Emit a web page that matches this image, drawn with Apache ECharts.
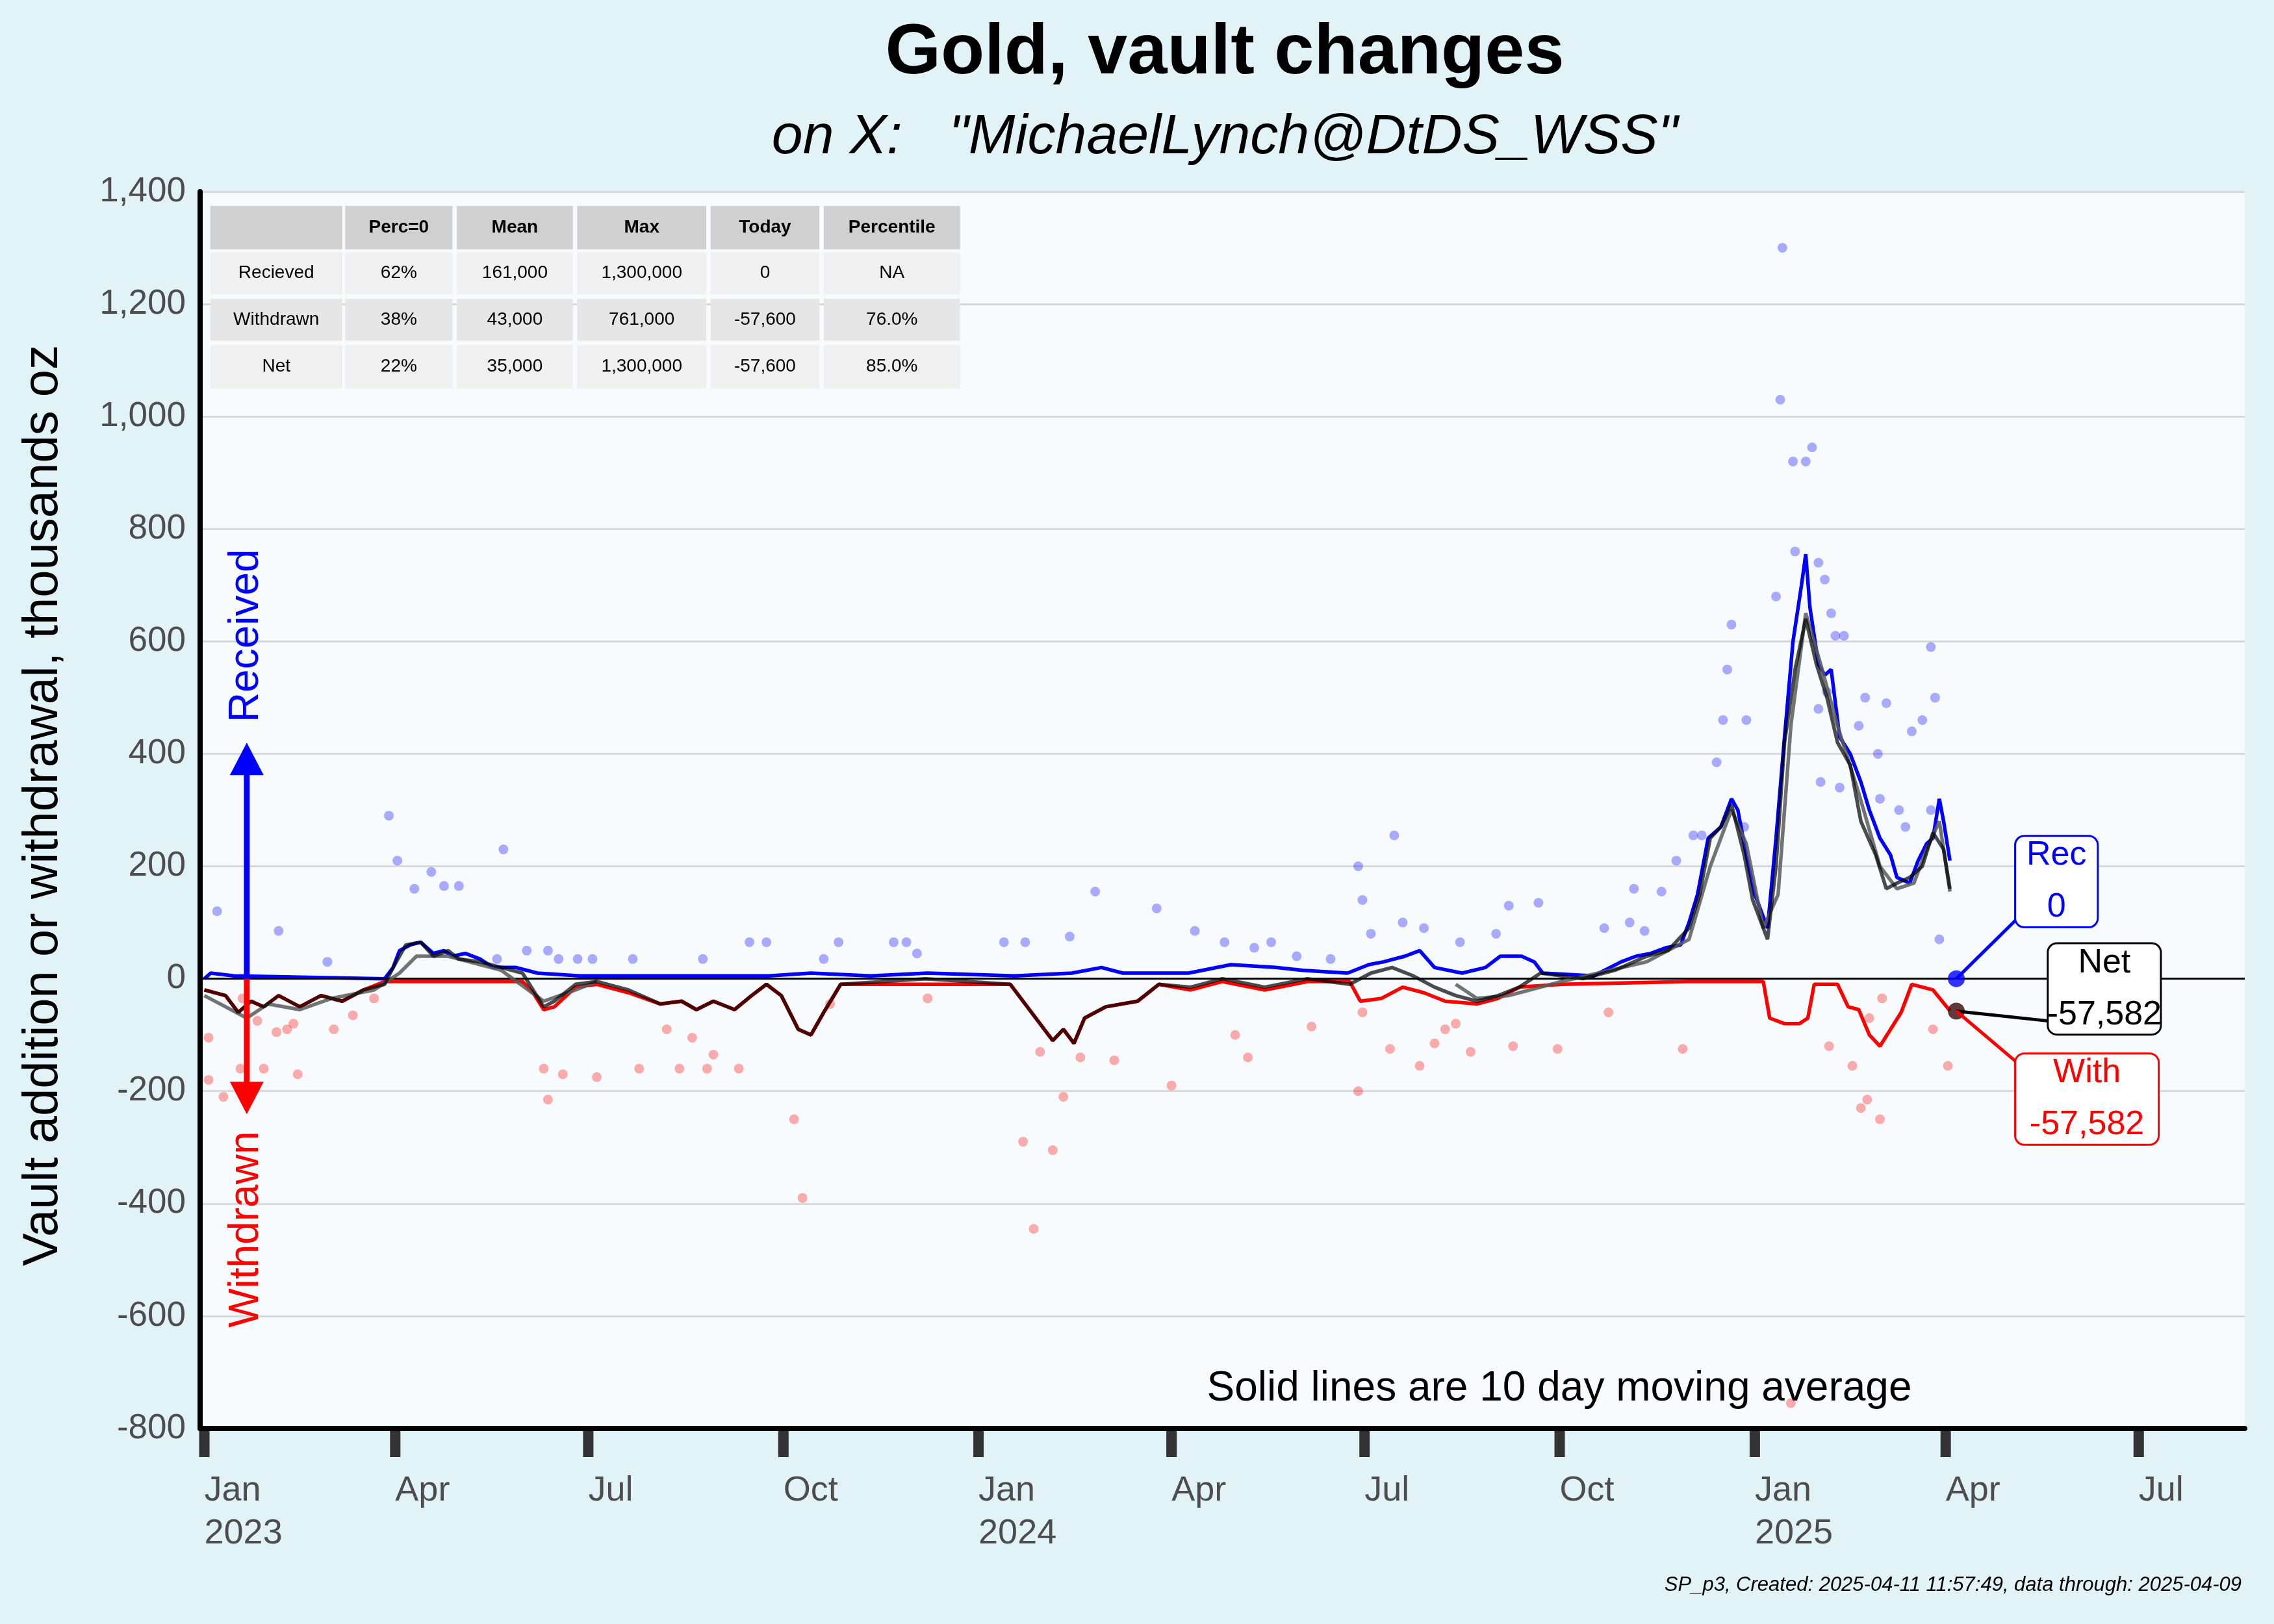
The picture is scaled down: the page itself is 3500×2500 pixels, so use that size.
<!DOCTYPE html>
<html><head><meta charset="utf-8">
<script src="https://cdn.jsdelivr.net/npm/echarts@6/dist/echarts.min.js"></script>
<style>html,body{margin:0;padding:0;background:#e2f3f8}#c{width:3500px;height:2500px}</style>
</head><body><div id="c"></div><script>
// days since 2023-01-01 , value (thousand oz)
const recPoints=[[6,120],[35,85],[58,30],[87,290],[91,210],[99,160],[107,190],[113,165],[120,165],[138,35],[141,230],[152,50],[162,50],[167,35],[176,35],[183,35],[202,35],[235,35],[257,65],[265,65],[292,35],[299,65],[325,65],[331,65],[336,45],[377,65],[387,65],[408,75],[420,155],[449,125],[467,85],[481,65],[495,55],[503,65],[515,40],[531,35],[544,200],[546,140],[550,80],[561,255],[565,100],[575,90],[592,65],[609,80],[615,130],[629,135],[660,90],[672,100],[674,160],[679,85],[687,155],[694,210],[702,255],[706,255],[713,385],[716,460],[718,550],[720,630],[726,270],[727,460],[741,680],[743,1030],[744,1300],[749,920],[750,760],[755,920],[758,945],[761,740],[761,480],[762,350],[764,710],[765,510],[767,650],[769,610],[771,340],[773,610],[780,450],[783,500],[789,400],[790,320],[793,490],[799,300],[802,270],[805,440],[810,460],[814,300],[814,590],[816,500],[818,70]];
const withPoints=[[2,-105],[2,-180],[9,-210],[17,-160],[18,-35],[25,-75],[28,-160],[34,-95],[39,-90],[42,-80],[44,-170],[61,-90],[70,-65],[80,-35],[160,-160],[162,-215],[169,-170],[185,-175],[205,-160],[218,-90],[224,-160],[230,-105],[237,-160],[240,-135],[252,-160],[278,-250],[282,-390],[295,-45],[341,-35],[386,-290],[391,-445],[400,-305],[405,-210],[394,-130],[413,-140],[429,-145],[456,-190],[492,-140],[486,-100],[522,-85],[544,-200],[546,-60],[559,-125],[573,-155],[580,-115],[585,-90],[590,-80],[597,-130],[617,-120],[638,-125],[662,-60],[697,-125],[766,-120],[777,-155],[781,-230],[784,-215],[790,-250],[785,-70],[791,-35],[815,-90],[822,-155],[748,-755]];
const recMA=[[0,0],[3,10],[14,5],[85,0],[89,20],[92,50],[97,60],[102,65],[108,45],[113,50],[117,40],[123,45],[130,35],[136,20],[147,20],[157,10],[177,5],[211,5],[266,5],[286,10],[314,5],[341,10],[382,5],[409,10],[423,20],[433,10],[464,10],[484,25],[505,20],[518,15],[539,10],[549,25],[556,30],[566,40],[573,50],[580,20],[593,10],[604,20],[611,40],[621,40],[627,30],[631,10],[655,5],[668,30],[675,40],[682,45],[689,55],[696,60],[700,100],[704,150],[709,250],[715,270],[720,320],[723,300],[727,220],[731,150],[737,90],[741,250],[745,430],[749,600],[753,700],[755,755],[757,660],[761,560],[764,540],[767,550],[771,430],[776,400],[781,350],[785,300],[790,250],[795,220],[798,180],[804,170],[808,210],[812,240],[815,250],[818,320],[820,280],[823,210]];
const withMA=[[0,-20],[10,-30],[16,-60],[22,-40],[28,-50],[35,-30],[45,-50],[55,-30],[65,-40],[75,-20],[85,-5],[150,-5],[155,-25],[160,-55],[165,-50],[175,-15],[185,-10],[200,-25],[215,-45],[225,-40],[232,-55],[240,-40],[250,-55],[258,-30],[265,-10],[272,-30],[280,-90],[286,-100],[292,-60],[300,-10],[380,-10],[390,-60],[400,-110],[405,-90],[410,-115],[415,-70],[425,-50],[440,-40],[450,-10],[465,-20],[480,-5],[500,-20],[520,-5],[540,-5],[545,-40],[555,-35],[565,-15],[575,-25],[585,-40],[600,-45],[610,-35],[620,-15],[640,-10],[700,-5],[735,-5],[738,-70],[745,-80],[752,-80],[756,-70],[759,-10],[770,-10],[775,-50],[780,-55],[785,-100],[790,-120],[795,-90],[800,-60],[805,-10],[815,-20],[823,-57]];
const netMA=[[0,-20],[10,-30],[16,-60],[22,-40],[28,-50],[35,-30],[45,-50],[55,-30],[65,-40],[75,-20],[85,-10],[89,20],[95,60],[102,65],[108,40],[115,50],[120,35],[130,30],[140,20],[150,10],[155,-20],[160,-50],[165,-40],[175,-10],[185,-5],[200,-20],[215,-45],[225,-40],[232,-55],[240,-40],[250,-55],[258,-30],[265,-10],[272,-30],[280,-90],[286,-100],[292,-60],[300,-10],[340,0],[380,-10],[390,-60],[400,-110],[405,-90],[410,-115],[415,-70],[425,-50],[440,-40],[450,-10],[465,-15],[480,0],[500,-15],[520,0],[540,-10],[550,10],[560,20],[570,5],[580,-15],[590,-30],[600,-40],[610,-30],[620,-15],[630,10],[650,0],[665,15],[680,40],[690,50],[700,90],[705,150],[710,250],[715,270],[720,310],[726,220],[730,140],[737,70],[741,200],[745,420],[750,550],[755,640],[760,560],[765,500],[770,420],[776,380],[781,280],[788,220],[793,160],[798,170],[804,180],[810,200],[815,260],[820,230],[823,160]];
const grayMA=[[0,-30],[10,-50],[20,-70],[30,-45],[45,-55],[60,-35],[80,-20],[92,10],[100,40],[115,40],[140,15],[160,-40],[175,-20],[185,-5],null,[590,-10],[600,-35],[615,-30],[640,-5],[680,30],[700,70],[710,200],[720,300],[727,240],[735,90],[742,150],[748,450],[755,650],[762,560],[770,450],[780,330],[790,200],[798,160],[806,170],[812,230],[818,280],[823,155]];
const quarterLabels=[["Jan","2023"],["Apr",""],["Jul",""],["Oct",""],["Jan","2024"],["Apr",""],["Jul",""],["Oct",""],["Jan","2025"],["Apr",""],["Jul",""]];
const quarterDates=[[2023,0],[2023,3],[2023,6],[2023,9],[2024,0],[2024,3],[2024,6],[2024,9],[2025,0],[2025,3],[2025,6]];
const tableHeader=["","Perc=0","Mean","Max","Today","Percentile"];
const tableRows=[["Recieved","62%","161,000","1,300,000","0","NA"],["Withdrawn","38%","43,000","761,000","-57,600","76.0%"],["Net","22%","35,000","1,300,000","-57,600","85.0%"]];
const lastDay=826, lastRec=0, lastWith=-57.582, lastNet=-57.582;

(function(){
const T0=Date.UTC(2023,0,1), D=864e5;
const t=a=>a.map(p=>p?[T0+p[0]*D,p[1]]:[null,null]);
const chart=echarts.init(document.getElementById('c'));
const F='Liberation Sans, Arial, sans-serif';
chart.setOption({
  backgroundColor:'#e2f3f8',animation:false,
  grid:{left:308,right:45,top:295,bottom:301,show:true,backgroundColor:'#f7fbfd',borderWidth:0},
  xAxis:{type:'time',min:T0-2*D,max:T0+962*D,axisLine:{show:true,onZero:false,lineStyle:{color:'#000',width:8}},axisTick:{show:false},axisLabel:{show:false},splitLine:{show:false}},
  yAxis:{type:'value',min:-800,max:1400,interval:200,axisLine:{show:true,lineStyle:{color:'#000',width:8}},axisTick:{show:false},
    axisLabel:{fontSize:53,color:'#4d4d4d',fontFamily:F,margin:22,formatter:v=>v.toLocaleString('en-US')},
    splitLine:{lineStyle:{color:'#d9d9d9',width:3}}},
  series:[
    {type:'scatter',data:t(recPoints),symbolSize:15,itemStyle:{color:'rgba(0,0,255,0.4)'},z:3},
    {type:'scatter',data:t(withPoints),symbolSize:15,itemStyle:{color:'rgba(255,0,0,0.4)'},z:3},
    {type:'line',data:t(recMA),showSymbol:false,lineStyle:{color:'#0000ff',width:5.5},z:4,
      markLine:{silent:true,symbol:'none',label:{show:false},lineStyle:{color:'#000',width:3,type:'solid'},data:[{yAxis:0}]}},
    {type:'line',data:t(withMA),showSymbol:false,lineStyle:{color:'#ff0000',width:5.5},z:4},
    {type:'line',data:t(grayMA),showSymbol:false,connectNulls:false,lineStyle:{color:'rgba(90,90,90,0.85)',width:5.5},z:5},
    {type:'line',data:t(netMA),showSymbol:false,lineStyle:{color:'rgba(0,0,0,0.7)',width:5.5},z:6},
    {type:'scatter',data:[[T0+lastDay*D,lastRec]],symbolSize:26,itemStyle:{color:'#0000ff'},z:8},
    {type:'scatter',data:[[T0+lastDay*D,lastNet]],symbolSize:26,itemStyle:{color:'#3a0a0a'},z:8}
  ]
});
const px=(d,v)=>chart.convertToPixel({xAxisIndex:0,yAxisIndex:0},[d,v]);
const g=[];
const yTop=295,yBot=2199;
quarterDates.forEach((q,i)=>{
  const x=px(Date.UTC(q[0],q[1],1),0)[0];
  g.push({type:'line',z:-1,shape:{x1:x,y1:yTop,x2:x,y2:yBot-4},style:{stroke:'#d9d9d9',lineWidth:3},silent:true});
  g.push({type:'rect',shape:{x:x-8,y:yBot,width:16,height:44},style:{fill:'#333'}});
  g.push({type:'text',x:x,y:2262,style:{text:quarterLabels[i][0]+(quarterLabels[i][1]?'\n'+quarterLabels[i][1]:''),font:'54px '+F,fill:'#4d4d4d',textAlign:'left',lineHeight:66}});
});
g.push({type:'text',x:1885,y:83,style:{text:'Gold, vault changes',font:'bold 110px '+F,fill:'#000',textAlign:'center',textVerticalAlign:'middle'}});
g.push({type:'text',x:1885,y:212,style:{text:'on X:   "MichaelLynch@DtDS_WSS"',font:'italic 86px '+F,fill:'#000',textAlign:'center',textVerticalAlign:'middle'}});
g.push({type:'text',x:67,y:1240,rotation:Math.PI/2,style:{text:'Vault addition or withdrawal, thousands oz',font:'76px '+F,fill:'#000',textAlign:'center',textVerticalAlign:'middle'}});
g.push({type:'text',x:3450,y:2440,style:{text:'SP_p3, Created: 2025-04-11 11:57:49, data through: 2025-04-09',font:'italic 31px '+F,fill:'#000',textAlign:'right',textVerticalAlign:'middle'}});
const np=px(T0+600*D,-730);
g.push({type:'text',x:2400,y:np[1],style:{text:'Solid lines are 10 day moving average',font:'64px '+F,fill:'#000',textAlign:'center',textVerticalAlign:'middle'}});
const ax=px(T0+20*D,0)[0], y0=px(0,0)[1], yUp=px(0,420)[1], yDn=px(0,-241)[1];
g.push({type:'line',shape:{x1:ax,y1:y0,x2:ax,y2:yUp+45},style:{stroke:'#0000ff',lineWidth:9},z:20});
g.push({type:'polygon',shape:{points:[[ax-26,yUp+50],[ax+26,yUp+50],[ax,yUp]]},style:{fill:'#0000ff'},z:20});
g.push({type:'line',shape:{x1:ax,y1:y0,x2:ax,y2:yDn-45},style:{stroke:'#ff0000',lineWidth:9},z:20});
g.push({type:'polygon',shape:{points:[[ax-26,yDn-50],[ax+26,yDn-50],[ax,yDn]]},style:{fill:'#ff0000'},z:20});
g.push({type:'text',x:ax,y:px(0,610)[1],rotation:Math.PI/2,style:{text:'Received',font:'64px '+F,fill:'#0000ff',textAlign:'center',textVerticalAlign:'middle'},z:20});
g.push({type:'text',x:ax,y:px(0,-446)[1],rotation:Math.PI/2,style:{text:'Withdrawn',font:'64px '+F,fill:'#ff0000',textAlign:'center',textVerticalAlign:'middle'},z:20});
const s=3500/1568;
const cols=[[145,236],[238,312],[315,395],[398,487],[490,565],[568,662]];
const rows=[[142,172],[174,203],[206,235],[238,268]];
const allRows=[tableHeader].concat(tableRows);
allRows.forEach((r,ri)=>r.forEach((c,ci)=>{
  const x=cols[ci][0]*s,y=rows[ri][0]*s,w=(cols[ci][1]-cols[ci][0])*s,h=(rows[ri][1]-rows[ri][0])*s;
  const fill=ri===0?'#d0d0d0':(ri%2?'#f0f0f0':'#e6e6e6');
  g.push({type:'rect',shape:{x,y,width:w,height:h},style:{fill},z:30});
  g.push({type:'text',x:x+w/2,y:y+h/2,style:{text:c,font:(ri===0?'bold ':'')+'28px '+F,fill:'#000',textAlign:'center',textVerticalAlign:'middle'},z:31});
}));
function box(cx,cy,w,h,txt,col,from){
  g.push({type:'line',shape:{x1:from[0],y1:from[1],x2:cx-w/2+10,y2:cy+(from[1]<cy?-h/2+20:h/2-20)},style:{stroke:col,lineWidth:5},z:40});
  g.push({type:'rect',shape:{x:cx-w/2,y:cy-h/2,width:w,height:h,r:14},style:{fill:'#fff',stroke:col,lineWidth:3},z:41});
  g.push({type:'text',x:cx,y:cy,style:{text:txt,font:'52px '+F,fill:col,textAlign:'center',textVerticalAlign:'middle',lineHeight:80},z:42});
}
const pr=px(T0+lastDay*D,lastRec), pn=px(T0+lastDay*D,lastNet);
box(1418*s,608*s,57*s,63*s,'Rec\n'+lastRec,'#0000ff',pr);
box(1451*s,682*s,78*s,63*s,'Net\n'+Math.round(lastNet*1000).toLocaleString('en-US'),'#000',pn);
box(1439*s,758*s,99*s,63*s,'With\n'+Math.round(lastWith*1000).toLocaleString('en-US'),'#ff0000',pn);
chart.setOption({graphic:g});
})();
</script></body></html>
